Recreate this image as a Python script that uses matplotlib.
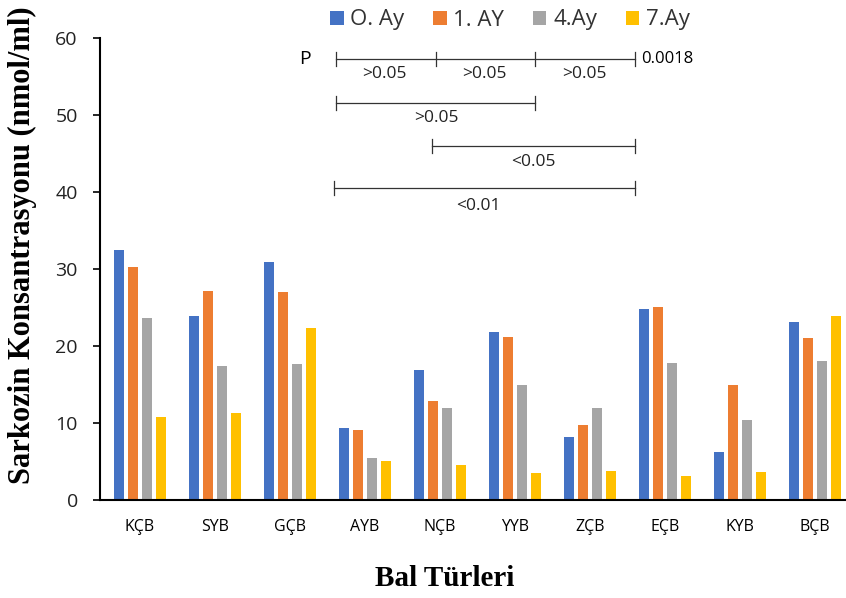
import numpy as np
import matplotlib.pyplot as plt

# ----------------------------
# Data
# ----------------------------
categories = ["KÇB", "SYB", "GÇB", "AYB", "NÇB", "YYB", "ZÇB", "EÇB", "KYB", "BÇB"]
series_names = ["O. Ay", "1. AY", "4.Ay", "7.Ay"]
ay0 = [32.5, 23.9, 30.9, 9.3, 16.9, 21.8, 8.2, 24.8, 6.2, 23.1]
ay1 = [30.3, 27.1, 27.0, 9.1, 12.9, 21.2, 9.8, 25.1, 15.0, 21.1]
ay4 = [23.6, 17.4, 17.6, 5.4, 12.0, 14.9, 12.0, 17.8, 10.4, 18.1]
ay7 = [10.8, 11.3, 22.3, 5.1, 4.5, 3.5, 3.8, 3.1, 3.7, 23.9]
colors = ["#4472C4", "#ED7D31", "#A5A5A5", "#FFC000"]

# ----------------------------
# Plotting
# ----------------------------
fig = plt.figure(figsize=(8.46, 5.98), dpi=100)
ax = fig.add_axes([100 / 846, 98 / 598, 746 / 846, 462 / 598])

x = np.arange(len(categories))
pitch = 0.187
width = 0.135
for i, (vals, name, c) in enumerate(zip([ay0, ay1, ay4, ay7], series_names, colors)):
    ax.bar(x + (i - 1.5) * pitch, vals, width, color=c, label=name)

ax.set_xlim(-0.533, 9.413)
ax.set_ylim(0, 60)
ax.set_yticks(range(0, 61, 10))
ax.set_xticks(x)
ax.set_xticklabels(categories, fontsize=11.5, family="Open Sans")
ax.tick_params(axis="x", length=0, pad=14)
ax.tick_params(axis="y", length=5, width=1.2, labelsize=14, pad=11)
for lab in ax.get_yticklabels():
    lab.set_family("Open Sans")
    lab.set_color("#222222")
for s in ["top", "right"]:
    ax.spines[s].set_visible(False)
ax.spines["left"].set_linewidth(1.5)
ax.spines["bottom"].set_linewidth(1.5)

fig.text(22 / 846, 1 - 245 / 598, "Sarkozin Konsantrasyonu (nmol/ml)", family="Liberation Serif",
         fontweight="bold", fontsize=22, rotation=90, ha="center", va="center")
fig.text(445 / 846, 1 - 578 / 598, "Bal Türleri", family="Liberation Serif",
         fontweight="bold", fontsize=21, ha="center", va="center")

# ----------------------------
# Significance brackets
# ----------------------------
def px_x(p):
    return (p - 140) / 75.0

def bracket(ticks_px, y, color="#333333"):
    xs = [px_x(p) for p in ticks_px]
    ax.plot([xs[0], xs[-1]], [y, y], color=color, lw=0.9, clip_on=False)
    for xv in xs:
        ax.plot([xv, xv], [y - 0.9, y + 0.9], color=color, lw=0.9, clip_on=False)

txt = dict(fontsize=12.5, family="Open Sans", ha="center", va="center", color="#222222")
bracket([336, 436, 535, 635], 57.3)
ax.text(px_x(305), 57.3, "P", fontsize=14, family="Open Sans", ha="center", va="center")
ax.text(px_x(641), 57.3, "0.0018", fontsize=12, family="Open Sans", ha="left", va="center")
for p in [384, 484, 584]:
    ax.text(px_x(p), 55.3, ">0.05", **txt)

bracket([336, 535], 51.6)
ax.text(px_x(436), 49.6, ">0.05", **txt)
bracket([432, 635], 46.0)
ax.text(px_x(533), 43.9, "<0.05", **txt)
bracket([334, 635], 40.5)
ax.text(px_x(478), 38.2, "<0.01", **txt)

leg = fig.legend(loc="center", bbox_to_anchor=(510 / 846, 1 - 20 / 598), ncol=4,
                 frameon=False, prop={"family": "Open Sans", "size": 16},
                 handlelength=0.6, handleheight=0.6, handletextpad=0.3, columnspacing=1.3)
for t in leg.get_texts():
    t.set_color("#333333")

fig.savefig("out.png", dpi=100)
